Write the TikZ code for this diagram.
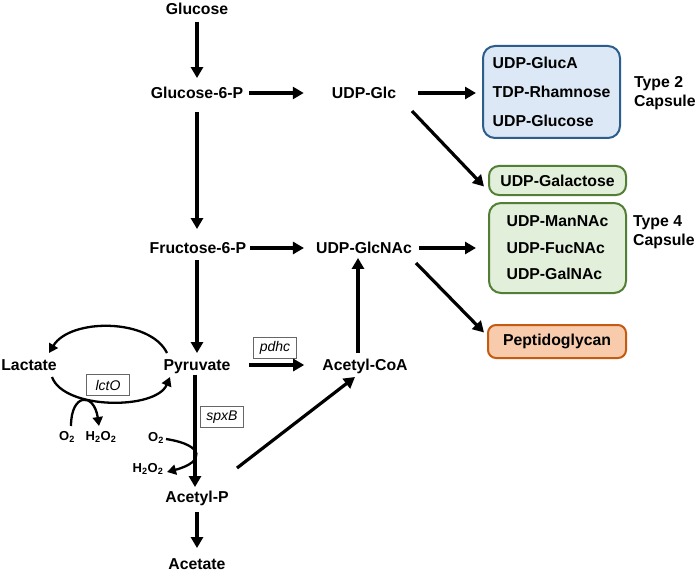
\documentclass[tikz,border=0pt]{standalone}
\usepackage{fontspec}
\setmainfont{Liberation Sans}
\usetikzlibrary{arrows.meta}
\definecolor{capblue}{HTML}{DCE8F5}
\definecolor{capblueline}{HTML}{2C5D8C}
\definecolor{capgreen}{HTML}{E2EFDA}
\definecolor{capgreenline}{HTML}{527F34}
\definecolor{pgorange}{HTML}{F8CBAD}
\definecolor{pgorangeline}{HTML}{C55A11}

\begin{document}
\begin{tikzpicture}[x=1pt,y=-1pt]

	\tikzstyle{met}=[inner sep=0pt, text height=11.5pt, text depth=0pt, font=\bfseries\fontsize{15.8}{18}\selectfont]
	\tikzstyle{enz}=[draw=black!60, line width=0.8pt, minimum width=43pt, minimum height=21pt, inner sep=0pt, font=\itshape\fontsize{14}{16}\selectfont]
	\tikzstyle{gas}=[inner sep=0pt, font=\bfseries\fontsize{13}{15}\selectfont]
	\tikzstyle{capbox}=[rounded corners=12pt, line width=2pt, align=left, inner sep=0pt, minimum width=137pt]
	\tikzstyle{captype}=[anchor=west, align=left, inner sep=0pt, font=\bfseries\fontsize{15.8}{19}\selectfont]
	\tikzstyle{arc}=[-{Triangle[length=11pt,width=12pt]}, line width=3.2pt]
	\tikzstyle{arc2}=[-{Triangle[length=9pt,width=10pt]}, line width=2.3pt]

	\useasboundingbox (0,0) rectangle (698,572);

	% metabolites
	\node[met] (glc) at (197,9) {Glucose};
	\node[met] (g6p) at (197,93) {Glucose-6-P};
	\node[met] (f6p) at (198,248) {Fructose-6-P};
	\node[met] (pyr) at (197,365) {Pyruvate};
	\node[met] (lac) at (29,365) {Lactate};
	\node[met] (acp) at (197,497) {Acetyl-P};
	\node[met] (ace) at (197,564) {Acetate};
	\node[met] (udpglc) at (364,93) {UDP-Glc};
	\node[met] (udpglcnac) at (364,248) {UDP-GlcNAc};
	\node[met] (acoa) at (365,365) {Acetyl-CoA};

	% capsule boxes
	\node[capbox, draw=capblueline, fill=capblue, minimum height=92pt, font=\bfseries\fontsize{15.8}{29}\selectfont] (type2) at (551.5,92) {UDP-GlucA\\TDP-Rhamnose\\UDP-Glucose};
	\node[capbox, rounded corners=10pt, draw=capgreenline, fill=capgreen, minimum height=29pt, font=\bfseries\fontsize{15.8}{18}\selectfont] (gal) at (557.5,180.5) {UDP-Galactose};
	\node[capbox, rounded corners=12pt, draw=capgreenline, fill=capgreen, minimum height=90pt, font=\bfseries\fontsize{15.8}{26.5}\selectfont] (type4) at (557.5,248) {UDP-ManNAc\\UDP-FucNAc\\UDP-GalNAc};
	\node[capbox, rounded corners=8pt, draw=pgorangeline, fill=pgorange, minimum width=138pt, minimum height=33pt, font=\bfseries\fontsize{15.8}{18}\selectfont] (pg) at (557,341.5) {Peptidoglycan};
	\node[captype] (t2lab) at (634,93.5) {Type 2\\Capsule};
	\node[captype] (t4lab) at (633,232) {Type 4\\Capsule};

	% enzymes and gases
	\node[enz] (pdhc) at (275,348) {pdhc};
	\node[enz] (lcto) at (108,385) {lctO};
	\node[enz] (spxb) at (222,417) {spxB};
	\node[gas] (o2a) at (67,437) {O\textsubscript{2}};
	\node[gas] (h2o2a) at (101,437) {H\textsubscript{2}O\textsubscript{2}};
	\node[gas] (o2b) at (156,438) {O\textsubscript{2}};
	\node[gas] (h2o2b) at (148,469) {H\textsubscript{2}O\textsubscript{2}};

	% main pathway
	\draw[arc, shorten <=7pt, shorten >=9pt] (glc.south) -- (g6p.north);
	\draw[arc, shorten <=13pt, shorten >=13pt] (g6p.south) -- ([xshift=-1pt]f6p.north);
	\draw[arc, shorten <=6pt, shorten >=6pt] ([xshift=-1pt]f6p.south) -- (pyr.north);
	\draw[arc, shorten <=4pt, shorten >=4pt] ([xshift=-2pt]pyr.south) -- ([xshift=-2pt]acp.north);
	\draw[arc, shorten <=9pt, shorten >=10pt] (acp.south) -- (ace.north);
	\draw[arc, shorten <=6pt, shorten >=28pt] (g6p.east) -- (udpglc.west);
	\draw[arc, shorten <=4pt, shorten >=12pt] (f6p.east) -- (udpglcnac.west);
	\draw[arc, shorten <=18pt, shorten >=18pt] (pyr.east) -- (acoa.west);
	\draw[arc, shorten <=6pt, shorten >=4pt] ([xshift=-7pt]acoa.north) -- ([xshift=-6pt]udpglcnac.south);
	\draw[arc] ([shift={(40,-29)}]acp.center) -- ([shift={(-10,12)}]acoa.center);

	% towards capsule and cell wall
	\draw[arc, shorten <=22pt, shorten >=6pt] (udpglc.east) -- (udpglc.east -| type2.west);
	\draw[arc, shorten <=7pt, shorten >=12pt] (udpglcnac.east) -- (udpglcnac.east -| type4.west);
	\draw[arc] ([shift={(48,18)}]udpglc.center) -- ([shift={(-4,6)}]gal.west);
	\draw[arc] ([shift={(52,15)}]udpglcnac.center) -- ([shift={(-3,-9)}]pg.west);

	% lactate / pyruvate cycle
	\draw[arc2] ([shift={(-30,-12)}]pyr.center) .. controls +(-17,-35) and +(21,-35) .. ([shift={(20,-12)}]lac.center);
	\draw[arc2] ([shift={(23,12)}]lac.center) .. controls +(12,33) and +(-14,33) .. ([shift={(-27,12)}]pyr.center);
	\draw[arc2] ([shift={(4,-11)}]o2a.center) .. controls +(0,-33) and +(-5,-34) .. ([shift={(-2,-11)}]h2o2a.center);
	\draw[arc2] ([shift={(10,1)}]o2b.center) .. controls +(39,6) and +(38,-10) .. ([shift={(19,3)}]h2o2b.center);

\end{tikzpicture}
\end{document}
